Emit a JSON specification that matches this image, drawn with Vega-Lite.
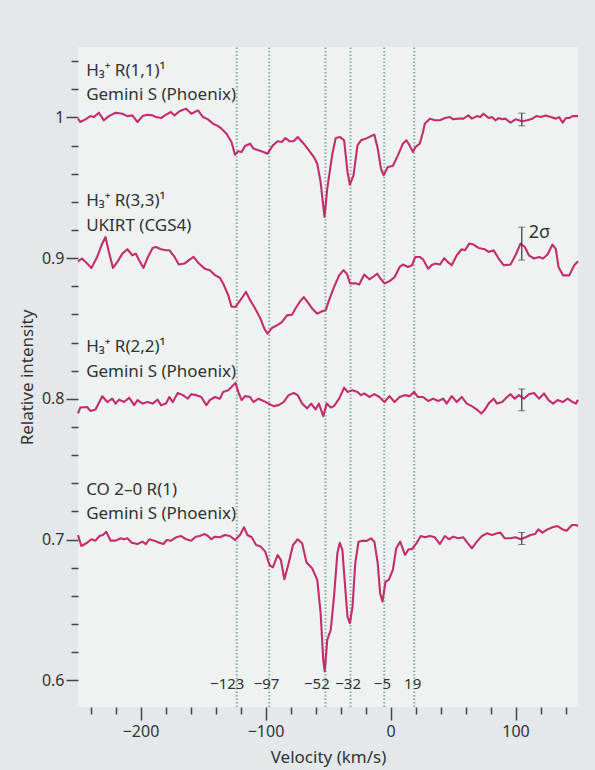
{
"$schema": "https://vega.github.io/schema/vega-lite/v6.json",
"width": 500, "height": 660,
"autosize": {"type": "none"},
"padding": {"left": 78, "top": 47, "right": 17, "bottom": 63},
"background": "#e4e8ea",
"config": {"view": {"fill": "#eef2f1", "stroke": null}, "font": "Noto Sans"},
"datasets": {
"vr": [{"v":-123,"i":0.581,"i2":1.05},{"v":-97,"i":0.581,"i2":1.05},{"v":-52,"i":0.581,"i2":1.05},{"v":-32,"i":0.581,"i2":1.05},{"v":-5,"i":0.581,"i2":1.05},{"v":19,"i":0.581,"i2":1.05}],
"vl": [{"v":-130.6,"t":"−123","i":0.597},{"v":-99.2,"t":"−97","i":0.597},{"v":-58.9,"t":"−52","i":0.597},{"v":-33.9,"t":"−32","i":0.597},{"v":-6.5,"t":"−5","i":0.597},{"v":17.7,"t":"19","i":0.597}],
"err": [{"v":105,"i":0.994,"i2":1.003},{"v":105,"i":0.8986,"i2":0.922},{"v":105,"i":0.7915,"i2":0.807},{"v":105,"i":0.6965,"i2":0.705}],
"lab": [{"t":"H₃⁺ R(1,1)¹","v":-243.5,"i":1.0327},{"t":"Gemini S (Phoenix)","v":-243.5,"i":1.0156},{"t":"H₃⁺ R(3,3)¹","v":-243.5,"i":0.9403},{"t":"UKIRT (CGS4)","v":-243.5,"i":0.9225},{"t":"H₃⁺ R(2,2)¹","v":-243.5,"i":0.8366},{"t":"Gemini S (Phoenix)","v":-243.5,"i":0.8188},{"t":"CO 2–0 R(1)","v":-243.5,"i":0.7355},{"t":"Gemini S (Phoenix)","v":-243.5,"i":0.7178}],
"sig": [{"t":"2σ","v":110.5,"i":0.9176}],
"spec": [
{"s":"a","v":-250,"i":0.9991},{"s":"a","v":-248.2,"i":0.9967},{"s":"a","v":-244.1,"i":0.9986},{"s":"a","v":-240.1,"i":1.0009},{"s":"a","v":-237.4,"i":1.0002},{"s":"a","v":-233.3,"i":1.0033},{"s":"a","v":-229.3,"i":0.9979},{"s":"a","v":-225.3,"i":1.0009},{"s":"a","v":-219.9,"i":1.0033},{"s":"a","v":-214.5,"i":1.0026},{"s":"a","v":-210.5,"i":1.0009},{"s":"a","v":-206.5,"i":1.0014},{"s":"a","v":-202.4,"i":0.9967},{"s":"a","v":-198.4,"i":1.0009},{"s":"a","v":-194.4,"i":1.0019},{"s":"a","v":-190.3,"i":1.0014},{"s":"a","v":-187.7,"i":1.0002},{"s":"a","v":-183.6,"i":0.9995},{"s":"a","v":-179.6,"i":1.0019},{"s":"a","v":-175.6,"i":1.0038},{"s":"a","v":-172.8,"i":1.0014},{"s":"a","v":-168.8,"i":1.0043},{"s":"a","v":-163.5,"i":1.0062},{"s":"a","v":-159.4,"i":1.0026},{"s":"a","v":-154.0,"i":1.0050},{"s":"a","v":-150.0,"i":1.0002},{"s":"a","v":-146.0,"i":0.9986},{"s":"a","v":-141.9,"i":0.9955},{"s":"a","v":-137.9,"i":0.9938},{"s":"a","v":-135.2,"i":0.9920},{"s":"a","v":-131.2,"i":0.9884},{"s":"a","v":-127.2,"i":0.9825},{"s":"a","v":-124.4,"i":0.9735},{"s":"a","v":-121.8,"i":0.9759},{"s":"a","v":-119.1,"i":0.9754},{"s":"a","v":-116.4,"i":0.9796},{"s":"a","v":-112.3,"i":0.9813},{"s":"a","v":-109.7,"i":0.9778},{"s":"a","v":-105.6,"i":0.9766},{"s":"a","v":-101.6,"i":0.9754},{"s":"a","v":-98.4,"i":0.9742},{"s":"a","v":-94.1,"i":0.9801},{"s":"a","v":-90.3,"i":0.9830},{"s":"a","v":-86.9,"i":0.9825},{"s":"a","v":-84.1,"i":0.9853},{"s":"a","v":-80.6,"i":0.9830},{"s":"a","v":-77.4,"i":0.9830},{"s":"a","v":-74.2,"i":0.9860},{"s":"a","v":-69.4,"i":0.9813},{"s":"a","v":-65.3,"i":0.9766},{"s":"a","v":-61.3,"i":0.9718},{"s":"a","v":-58.6,"i":0.9671},{"s":"a","v":-55.9,"i":0.9540},{"s":"a","v":-52.8,"i":0.9292},{"s":"a","v":-50.6,"i":0.9493},{"s":"a","v":-46.5,"i":0.9742},{"s":"a","v":-43.8,"i":0.9853},{"s":"a","v":-40.3,"i":0.9860},{"s":"a","v":-37.1,"i":0.9837},{"s":"a","v":-34.4,"i":0.9612},{"s":"a","v":-32.5,"i":0.9522},{"s":"a","v":-29.6,"i":0.9588},{"s":"a","v":-26.4,"i":0.9801},{"s":"a","v":-23.6,"i":0.9837},{"s":"a","v":-19.6,"i":0.9849},{"s":"a","v":-15.6,"i":0.9867},{"s":"a","v":-12.9,"i":0.9877},{"s":"a","v":-10.2,"i":0.9778},{"s":"a","v":-7.5,"i":0.9631},{"s":"a","v":-5.4,"i":0.9588},{"s":"a","v":-2.2,"i":0.9647},{"s":"a","v":1.9,"i":0.9654},{"s":"a","v":5.9,"i":0.9730},{"s":"a","v":9.9,"i":0.9813},{"s":"a","v":12.7,"i":0.9837},{"s":"a","v":15.3,"i":0.9801},{"s":"a","v":18.0,"i":0.9754},{"s":"a","v":19.9,"i":0.9789},{"s":"a","v":23.4,"i":0.9813},{"s":"a","v":26.0,"i":0.9896},{"s":"a","v":27.4,"i":0.9955},{"s":"a","v":31.5,"i":0.9991},{"s":"a","v":35.5,"i":0.9979},{"s":"a","v":39.5,"i":0.9979},{"s":"a","v":43.5,"i":0.9995},{"s":"a","v":47.6,"i":1.0002},{"s":"a","v":50.2,"i":0.9986},{"s":"a","v":54.3,"i":0.9991},{"s":"a","v":58.3,"i":0.9991},{"s":"a","v":62.3,"i":1.0014},{"s":"a","v":65.1,"i":0.9991},{"s":"a","v":69.1,"i":1.0009},{"s":"a","v":71.8,"i":1.0002},{"s":"a","v":74.4,"i":1.0026},{"s":"a","v":78.5,"i":0.9995},{"s":"a","v":81.2,"i":1.0002},{"s":"a","v":83.9,"i":0.9979},{"s":"a","v":86.5,"i":0.9995},{"s":"a","v":89.3,"i":0.9986},{"s":"a","v":91.9,"i":0.9991},{"s":"a","v":96.0,"i":0.9962},{"s":"a","v":100.0,"i":0.9986},{"s":"a","v":105.4,"i":0.9972},{"s":"a","v":109.4,"i":0.9979},{"s":"a","v":113.5,"i":0.9991},{"s":"a","v":116.7,"i":1.0009},{"s":"a","v":120.2,"i":1.0002},{"s":"a","v":124.2,"i":1.0014},{"s":"a","v":128.2,"i":1.0002},{"s":"a","v":132.3,"i":0.9991},{"s":"a","v":134.9,"i":1.0002},{"s":"a","v":137.7,"i":0.9962},{"s":"a","v":140.3,"i":0.9995},{"s":"a","v":143.0,"i":0.9995},{"s":"a","v":145.7,"i":1.0009},{"s":"a","v":150,"i":1.0009},
{"s":"b","v":-250,"i":0.8977},{"s":"b","v":-246.8,"i":0.8997},{"s":"b","v":-242.7,"i":0.8961},{"s":"b","v":-239.3,"i":0.8930},{"s":"b","v":-234.7,"i":0.9008},{"s":"b","v":-231.2,"i":0.9091},{"s":"b","v":-228.0,"i":0.9150},{"s":"b","v":-225.3,"i":0.9044},{"s":"b","v":-222.0,"i":0.8930},{"s":"b","v":-218.5,"i":0.8973},{"s":"b","v":-214.5,"i":0.9032},{"s":"b","v":-210.5,"i":0.9063},{"s":"b","v":-206.5,"i":0.9020},{"s":"b","v":-203.8,"i":0.9032},{"s":"b","v":-201.1,"i":0.8985},{"s":"b","v":-197.6,"i":0.8930},{"s":"b","v":-194.4,"i":0.9001},{"s":"b","v":-190.3,"i":0.9072},{"s":"b","v":-187.7,"i":0.9079},{"s":"b","v":-183.6,"i":0.9063},{"s":"b","v":-179.6,"i":0.9056},{"s":"b","v":-176.9,"i":0.9056},{"s":"b","v":-172.8,"i":0.9008},{"s":"b","v":-169.3,"i":0.8954},{"s":"b","v":-164.8,"i":0.8961},{"s":"b","v":-161.3,"i":0.8985},{"s":"b","v":-157.5,"i":0.9008},{"s":"b","v":-153.2,"i":0.8961},{"s":"b","v":-148.6,"i":0.8925},{"s":"b","v":-144.6,"i":0.8914},{"s":"b","v":-140.5,"i":0.8879},{"s":"b","v":-136.5,"i":0.8860},{"s":"b","v":-133.9,"i":0.8820},{"s":"b","v":-129.8,"i":0.8736},{"s":"b","v":-127.2,"i":0.8654},{"s":"b","v":-124.0,"i":0.8654},{"s":"b","v":-119.1,"i":0.8713},{"s":"b","v":-115.6,"i":0.8760},{"s":"b","v":-112.3,"i":0.8701},{"s":"b","v":-108.3,"i":0.8642},{"s":"b","v":-104.3,"i":0.8575},{"s":"b","v":-101.0,"i":0.8500},{"s":"b","v":-98.4,"i":0.8463},{"s":"b","v":-94.9,"i":0.8503},{"s":"b","v":-90.9,"i":0.8522},{"s":"b","v":-86.9,"i":0.8545},{"s":"b","v":-82.8,"i":0.8593},{"s":"b","v":-78.8,"i":0.8598},{"s":"b","v":-76.0,"i":0.8642},{"s":"b","v":-72.6,"i":0.8689},{"s":"b","v":-69.4,"i":0.8723},{"s":"b","v":-66.7,"i":0.8693},{"s":"b","v":-62.7,"i":0.8642},{"s":"b","v":-58.6,"i":0.8605},{"s":"b","v":-54.6,"i":0.8622},{"s":"b","v":-51.9,"i":0.8629},{"s":"b","v":-49.2,"i":0.8700},{"s":"b","v":-45.2,"i":0.8794},{"s":"b","v":-41.1,"i":0.8877},{"s":"b","v":-37.6,"i":0.8914},{"s":"b","v":-34.9,"i":0.8889},{"s":"b","v":-32.3,"i":0.8820},{"s":"b","v":-27.7,"i":0.8820},{"s":"b","v":-25.0,"i":0.8812},{"s":"b","v":-21.0,"i":0.8883},{"s":"b","v":-16.9,"i":0.8849},{"s":"b","v":-14.3,"i":0.8864},{"s":"b","v":-10.7,"i":0.8889},{"s":"b","v":-8.1,"i":0.8855},{"s":"b","v":-4.8,"i":0.8820},{"s":"b","v":-0.8,"i":0.8836},{"s":"b","v":3.2,"i":0.8864},{"s":"b","v":7.3,"i":0.8937},{"s":"b","v":9.9,"i":0.8954},{"s":"b","v":14.0,"i":0.8937},{"s":"b","v":17.2,"i":0.8949},{"s":"b","v":19.9,"i":0.9008},{"s":"b","v":23.4,"i":0.9008},{"s":"b","v":26.0,"i":0.8991},{"s":"b","v":30.1,"i":0.8925},{"s":"b","v":32.8,"i":0.8949},{"s":"b","v":35.5,"i":0.8961},{"s":"b","v":39.5,"i":0.8954},{"s":"b","v":43.0,"i":0.9000},{"s":"b","v":45.7,"i":0.8973},{"s":"b","v":49.0,"i":0.8949},{"s":"b","v":53.0,"i":0.9020},{"s":"b","v":57.0,"i":0.9063},{"s":"b","v":59.7,"i":0.9056},{"s":"b","v":62.9,"i":0.9103},{"s":"b","v":66.4,"i":0.9096},{"s":"b","v":70.4,"i":0.9072},{"s":"b","v":75.2,"i":0.9063},{"s":"b","v":78.5,"i":0.9044},{"s":"b","v":82.5,"i":0.9056},{"s":"b","v":86.5,"i":0.8997},{"s":"b","v":90.6,"i":0.8949},{"s":"b","v":96.0,"i":0.8954},{"s":"b","v":100.0,"i":0.9020},{"s":"b","v":104.0,"i":0.9103},{"s":"b","v":107.5,"i":0.9079},{"s":"b","v":110.7,"i":0.9020},{"s":"b","v":114.8,"i":0.8997},{"s":"b","v":118.8,"i":0.9008},{"s":"b","v":122.0,"i":0.8997},{"s":"b","v":125.6,"i":0.9025},{"s":"b","v":129.6,"i":0.9096},{"s":"b","v":132.3,"i":0.9063},{"s":"b","v":134.4,"i":0.8937},{"s":"b","v":138.1,"i":0.8877},{"s":"b","v":143.0,"i":0.8877},{"s":"b","v":147.0,"i":0.8949},{"s":"b","v":150,"i":0.8977},
{"s":"c","v":-250,"i":0.7896},{"s":"c","v":-248.2,"i":0.7938},{"s":"c","v":-242.7,"i":0.7942},{"s":"c","v":-240.1,"i":0.7914},{"s":"c","v":-236.0,"i":0.7924},{"s":"c","v":-230.6,"i":0.8018},{"s":"c","v":-226.6,"i":0.7977},{"s":"c","v":-222.6,"i":0.8001},{"s":"c","v":-219.9,"i":0.7966},{"s":"c","v":-217.2,"i":0.7994},{"s":"c","v":-213.1,"i":0.7977},{"s":"c","v":-209.1,"i":0.8008},{"s":"c","v":-205.1,"i":0.7955},{"s":"c","v":-202.4,"i":0.7991},{"s":"c","v":-198.4,"i":0.7966},{"s":"c","v":-194.4,"i":0.7977},{"s":"c","v":-190.3,"i":0.7966},{"s":"c","v":-186.3,"i":0.7994},{"s":"c","v":-183.6,"i":0.7955},{"s":"c","v":-179.6,"i":0.7966},{"s":"c","v":-176.9,"i":0.8013},{"s":"c","v":-174.2,"i":0.7977},{"s":"c","v":-170.2,"i":0.8041},{"s":"c","v":-166.1,"i":0.8026},{"s":"c","v":-162.1,"i":0.8001},{"s":"c","v":-159.4,"i":0.8033},{"s":"c","v":-155.4,"i":0.8026},{"s":"c","v":-151.4,"i":0.8013},{"s":"c","v":-147.3,"i":0.7955},{"s":"c","v":-144.6,"i":0.7991},{"s":"c","v":-140.5,"i":0.8013},{"s":"c","v":-136.5,"i":0.8001},{"s":"c","v":-133.9,"i":0.8049},{"s":"c","v":-129.8,"i":0.8061},{"s":"c","v":-127.2,"i":0.8084},{"s":"c","v":-124.0,"i":0.8113},{"s":"c","v":-121.8,"i":0.8049},{"s":"c","v":-119.1,"i":0.7991},{"s":"c","v":-116.4,"i":0.8019},{"s":"c","v":-112.3,"i":0.8013},{"s":"c","v":-109.7,"i":0.7977},{"s":"c","v":-105.6,"i":0.8001},{"s":"c","v":-101.6,"i":0.7985},{"s":"c","v":-97.6,"i":0.7966},{"s":"c","v":-93.5,"i":0.7948},{"s":"c","v":-89.5,"i":0.7955},{"s":"c","v":-85.5,"i":0.7977},{"s":"c","v":-81.5,"i":0.8026},{"s":"c","v":-77.4,"i":0.8041},{"s":"c","v":-74.2,"i":0.8026},{"s":"c","v":-70.7,"i":0.7966},{"s":"c","v":-66.7,"i":0.7932},{"s":"c","v":-63.5,"i":0.7966},{"s":"c","v":-59.9,"i":0.7924},{"s":"c","v":-57.3,"i":0.7966},{"s":"c","v":-53.8,"i":0.7877},{"s":"c","v":-51.0,"i":0.7966},{"s":"c","v":-47.8,"i":0.7938},{"s":"c","v":-45.2,"i":0.7948},{"s":"c","v":-41.1,"i":0.8001},{"s":"c","v":-37.1,"i":0.8079},{"s":"c","v":-34.4,"i":0.8049},{"s":"c","v":-30.4,"i":0.8061},{"s":"c","v":-26.4,"i":0.8049},{"s":"c","v":-23.6,"i":0.8026},{"s":"c","v":-21.0,"i":0.8038},{"s":"c","v":-16.9,"i":0.8013},{"s":"c","v":-12.9,"i":0.8033},{"s":"c","v":-8.9,"i":0.8013},{"s":"c","v":-4.8,"i":0.7977},{"s":"c","v":-0.8,"i":0.8019},{"s":"c","v":3.2,"i":0.7977},{"s":"c","v":7.3,"i":0.8013},{"s":"c","v":11.3,"i":0.8026},{"s":"c","v":15.3,"i":0.8019},{"s":"c","v":18.8,"i":0.8049},{"s":"c","v":22.0,"i":0.8013},{"s":"c","v":26.0,"i":0.8013},{"s":"c","v":30.1,"i":0.7985},{"s":"c","v":34.1,"i":0.8001},{"s":"c","v":38.1,"i":0.7985},{"s":"c","v":42.2,"i":0.8001},{"s":"c","v":44.9,"i":0.7966},{"s":"c","v":49.0,"i":0.8019},{"s":"c","v":53.0,"i":0.7977},{"s":"c","v":57.0,"i":0.8013},{"s":"c","v":61.0,"i":0.7966},{"s":"c","v":65.1,"i":0.7948},{"s":"c","v":69.1,"i":0.7924},{"s":"c","v":72.6,"i":0.7896},{"s":"c","v":75.2,"i":0.7920},{"s":"c","v":78.5,"i":0.7966},{"s":"c","v":82.5,"i":0.8001},{"s":"c","v":85.2,"i":0.7966},{"s":"c","v":89.3,"i":0.7977},{"s":"c","v":93.3,"i":0.8013},{"s":"c","v":96.0,"i":0.8033},{"s":"c","v":99.4,"i":0.8001},{"s":"c","v":102.7,"i":0.8026},{"s":"c","v":106.7,"i":0.8001},{"s":"c","v":110.7,"i":0.8033},{"s":"c","v":114.8,"i":0.8041},{"s":"c","v":118.8,"i":0.8001},{"s":"c","v":122.8,"i":0.8038},{"s":"c","v":126.4,"i":0.7991},{"s":"c","v":130.1,"i":0.7966},{"s":"c","v":133.6,"i":0.7991},{"s":"c","v":137.7,"i":0.7977},{"s":"c","v":141.7,"i":0.8001},{"s":"c","v":145.7,"i":0.7977},{"s":"c","v":148.4,"i":0.7966},{"s":"c","v":150,"i":0.7994},
{"s":"d","v":-250,"i":0.7032},{"s":"d","v":-247.3,"i":0.6954},{"s":"d","v":-242.7,"i":0.6977},{"s":"d","v":-239.3,"i":0.7002},{"s":"d","v":-236.0,"i":0.6992},{"s":"d","v":-232.8,"i":0.7025},{"s":"d","v":-230.1,"i":0.7032},{"s":"d","v":-227.4,"i":0.7055},{"s":"d","v":-223.9,"i":0.6992},{"s":"d","v":-219.9,"i":0.6992},{"s":"d","v":-215.9,"i":0.7009},{"s":"d","v":-213.1,"i":0.7002},{"s":"d","v":-210.5,"i":0.7009},{"s":"d","v":-207.0,"i":0.6977},{"s":"d","v":-202.4,"i":0.6968},{"s":"d","v":-198.4,"i":0.6985},{"s":"d","v":-195.7,"i":0.6968},{"s":"d","v":-193.0,"i":0.7002},{"s":"d","v":-189.0,"i":0.6992},{"s":"d","v":-184.9,"i":0.6977},{"s":"d","v":-181.7,"i":0.6968},{"s":"d","v":-179.0,"i":0.6997},{"s":"d","v":-175.6,"i":0.6992},{"s":"d","v":-171.5,"i":0.7016},{"s":"d","v":-167.5,"i":0.7025},{"s":"d","v":-163.5,"i":0.7002},{"s":"d","v":-159.4,"i":0.6992},{"s":"d","v":-155.9,"i":0.7020},{"s":"d","v":-152.7,"i":0.7025},{"s":"d","v":-148.6,"i":0.7039},{"s":"d","v":-146.0,"i":0.7025},{"s":"d","v":-143.3,"i":0.7002},{"s":"d","v":-140.5,"i":0.7020},{"s":"d","v":-136.5,"i":0.7016},{"s":"d","v":-132.5,"i":0.7032},{"s":"d","v":-128.5,"i":0.7025},{"s":"d","v":-124.4,"i":0.6997},{"s":"d","v":-120.4,"i":0.7032},{"s":"d","v":-117.2,"i":0.7087},{"s":"d","v":-114.5,"i":0.7032},{"s":"d","v":-111.0,"i":0.7016},{"s":"d","v":-107.5,"i":0.6961},{"s":"d","v":-103.8,"i":0.6950},{"s":"d","v":-100.2,"i":0.6914},{"s":"d","v":-96.8,"i":0.6819},{"s":"d","v":-94.1,"i":0.6803},{"s":"d","v":-90.3,"i":0.6890},{"s":"d","v":-87.7,"i":0.6855},{"s":"d","v":-84.9,"i":0.6718},{"s":"d","v":-81.5,"i":0.6831},{"s":"d","v":-78.0,"i":0.6961},{"s":"d","v":-74.2,"i":0.7002},{"s":"d","v":-70.7,"i":0.6973},{"s":"d","v":-67.2,"i":0.6836},{"s":"d","v":-62.7,"i":0.6796},{"s":"d","v":-58.6,"i":0.6713},{"s":"d","v":-55.9,"i":0.6477},{"s":"d","v":-53.8,"i":0.6145},{"s":"d","v":-52.6,"i":0.6062},{"s":"d","v":-50.6,"i":0.6287},{"s":"d","v":-47.8,"i":0.6358},{"s":"d","v":-45.2,"i":0.6594},{"s":"d","v":-42.5,"i":0.6902},{"s":"d","v":-40.6,"i":0.6977},{"s":"d","v":-38.5,"i":0.6926},{"s":"d","v":-36.3,"i":0.6665},{"s":"d","v":-34.4,"i":0.6452},{"s":"d","v":-32.5,"i":0.6405},{"s":"d","v":-30.4,"i":0.6523},{"s":"d","v":-28.2,"i":0.6831},{"s":"d","v":-25.6,"i":0.6985},{"s":"d","v":-22.3,"i":0.6992},{"s":"d","v":-19.1,"i":0.6990},{"s":"d","v":-15.6,"i":0.7009},{"s":"d","v":-12.9,"i":0.6985},{"s":"d","v":-10.2,"i":0.6831},{"s":"d","v":-8.3,"i":0.6618},{"s":"d","v":-6.4,"i":0.6559},{"s":"d","v":-4.0,"i":0.6700},{"s":"d","v":-1.4,"i":0.6713},{"s":"d","v":1.9,"i":0.6784},{"s":"d","v":4.6,"i":0.6938},{"s":"d","v":7.8,"i":0.6985},{"s":"d","v":11.6,"i":0.6890},{"s":"d","v":14.5,"i":0.6931},{"s":"d","v":17.2,"i":0.6931},{"s":"d","v":20.7,"i":0.6973},{"s":"d","v":24.2,"i":0.7025},{"s":"d","v":27.4,"i":0.7016},{"s":"d","v":31.5,"i":0.7025},{"s":"d","v":35.5,"i":0.7016},{"s":"d","v":39.5,"i":0.6968},{"s":"d","v":43.5,"i":0.7025},{"s":"d","v":46.8,"i":0.7002},{"s":"d","v":50.2,"i":0.7020},{"s":"d","v":54.3,"i":0.7009},{"s":"d","v":58.3,"i":0.7016},{"s":"d","v":61.9,"i":0.6973},{"s":"d","v":65.1,"i":0.6938},{"s":"d","v":69.1,"i":0.6985},{"s":"d","v":73.1,"i":0.7025},{"s":"d","v":77.2,"i":0.7044},{"s":"d","v":81.2,"i":0.7032},{"s":"d","v":85.2,"i":0.7044},{"s":"d","v":87.9,"i":0.7049},{"s":"d","v":91.4,"i":0.7009},{"s":"d","v":96.0,"i":0.7009},{"s":"d","v":100.0,"i":0.7016},{"s":"d","v":104.0,"i":0.7002},{"s":"d","v":108.1,"i":0.7016},{"s":"d","v":112.1,"i":0.7032},{"s":"d","v":115.6,"i":0.7039},{"s":"d","v":118.3,"i":0.7072},{"s":"d","v":121.5,"i":0.7049},{"s":"d","v":125.6,"i":0.7072},{"s":"d","v":129.6,"i":0.7087},{"s":"d","v":133.6,"i":0.7096},{"s":"d","v":137.7,"i":0.7072},{"s":"d","v":140.9,"i":0.7062},{"s":"d","v":145.2,"i":0.7103},{"s":"d","v":148.6,"i":0.7103},{"s":"d","v":150,"i":0.7096}
]
},
"encoding": {
"x": {"field": "v", "type": "quantitative", "scale": {"domain": [-250, 150], "nice": false, "zero": false},
"axis": {"values": [-240,-220,-200,-180,-160,-140,-120,-100,-80,-60,-40,-20,0,20,40,60,80,100,120,140],
"labelExpr": "datum.value % 100 === 0 ? format(datum.value, 'd') : ''",
"tickSize": {"condition": {"test": "datum.value % 100 === 0", "value": 13}, "value": 7},
"domain": false, "grid": false, "labelOverlap": false, "labelFlush": false,
"tickColor": "#444", "tickWidth": 1.5, "labelPadding": 3,
"labelFontSize": 16, "labelColor": "#333", "labelFont": "Noto Sans",
"title": "Velocity (km/s)", "titleFontSize": 17, "titleFontWeight": "normal", "titleColor": "#333", "titleFont": "Noto Sans", "titlePadding": 10}},
"y": {"field": "i", "type": "quantitative", "scale": {"domain": [0.581, 1.05], "nice": false, "zero": false},
"axis": {"values": [0.6,0.62,0.64,0.66,0.68,0.7,0.72,0.74,0.76,0.78,0.8,0.82,0.84,0.86,0.88,0.9,0.92,0.94,0.96,0.98,1,1.02,1.04],
"labelExpr": "abs(datum.value*10 - round(datum.value*10)) < 0.001 ? (datum.value > 0.99 ? '1' : format(datum.value, '.1f')) : ''",
"tickSize": {"condition": {"test": "abs(datum.value*10 - round(datum.value*10)) < 0.001", "value": 12}, "value": 7},
"domain": false, "grid": false, "labelOverlap": false, "labelFlush": false,
"tickColor": "#444", "tickWidth": 1.5, "labelPadding": 2,
"labelFontSize": 16, "labelColor": "#333", "labelFont": "Noto Sans",
"title": "Relative intensity", "titleFontSize": 17, "titleFontWeight": "normal", "titleColor": "#333", "titleFont": "Noto Sans", "titlePadding": 5}}
},
"layer": [
{
"data": {"name": "vr"},
"mark": {"type": "rule", "color": "#8dad9c", "strokeWidth": 2, "strokeDash": [1.5, 2]},
"encoding": {"y2": {"field": "i2"}}
},
{
"data": {"name": "spec"},
"mark": {"type": "line", "color": "#c42d6b", "strokeWidth": 2.1, "strokeJoin": "round"},
"encoding": {"detail": {"field": "s", "type": "nominal"}}
},
{
"data": {"name": "err"},
"mark": {"type": "errorbar", "ticks": {"size": 7, "strokeWidth": 1.3}, "color": "#444", "rule": {"strokeWidth": 1.3}},
"encoding": {"y2": {"field": "i2"}}
},
{
"data": {"name": "lab"},
"mark": {"type": "text", "align": "left", "baseline": "middle", "fontSize": 17, "color": "#333", "font": "Noto Sans"},
"encoding": {"text": {"field": "t"}}
},
{
"data": {"name": "vl"},
"mark": {"type": "text", "align": "center", "baseline": "middle", "fontSize": 15, "color": "#333", "font": "Noto Sans"},
"encoding": {"text": {"field": "t"}}
},
{
"data": {"name": "sig"},
"mark": {"type": "text", "align": "left", "baseline": "middle", "fontSize": 18, "color": "#333", "font": "Noto Sans"},
"encoding": {"text": {"field": "t"}}
}
]
}
